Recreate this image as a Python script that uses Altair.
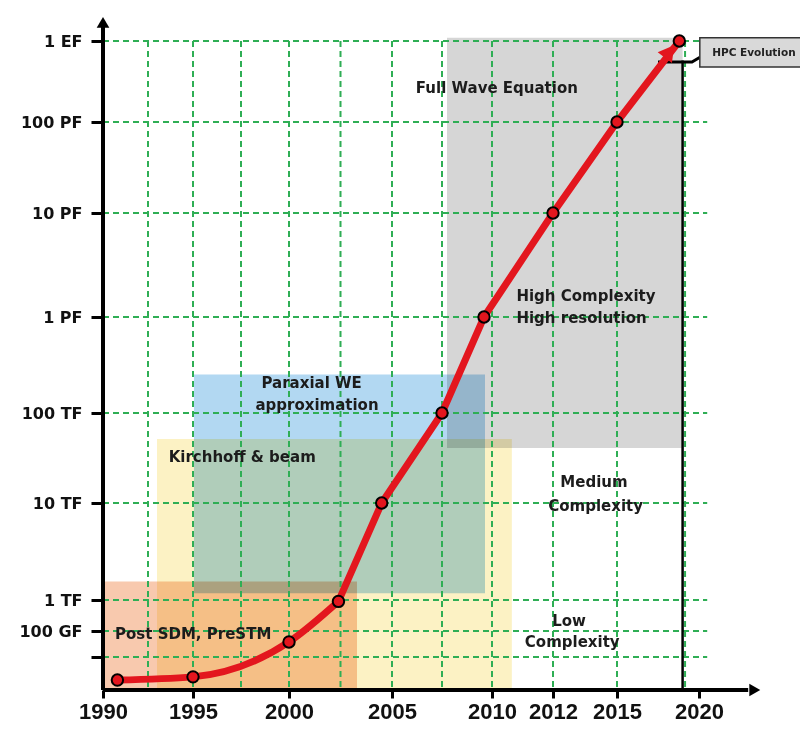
import altair as alt
import pandas as pd

# ---------------- data ----------------
years = [1990.8, 1995.0, 2000.0, 2002.4, 2004.5, 2007.5, 2009.6, 2012.0, 2015.0, 2018.8]
flops = [2.0e9, 2.5e9, 3.8e10, 9.0e11, 1.0e13, 1.0e14, 1.0e15, 1.0e16, 1.0e17, 1.0e18]

x_tick_years = [1990, 1995, 2000, 2005, 2010, 2012, 2015, 2020]
y_tick_values = [1e18, 1e17, 1e16, 1e15, 1e14, 1e13, 1e12, 1e11, 1e10]
y_tick_labels = ["1 EF", "100 PF", "10 PF", "1 PF", "100 TF", "10 TF", "1 TF", "100 GF", ""]

grid_years = [1992.5, 1995, 1997.5, 2000, 2002.5, 2005, 2007.5, 2010, 2012, 2015, 2019.15]
grid_flops = [1e18, 1e17, 1e16, 1e15, 1e14, 1e13, 1e12, 1e11, 1e10]

region_names = ["Full Wave Equation", "Kirchhoff & beam", "Paraxial WE", "Post SDM, PreSTM"]
region_x0 = [2007.75, 1993.0, 1995.05, 1990.0]
region_x1 = [2019.0, 2010.65, 2009.65, 2003.3]
region_y0 = [10 ** 13.61, 1e9, 10 ** 12.07, 1e9]
region_y1 = [10 ** 18.04, 10 ** 13.71, 10 ** 14.40, 10 ** 12.19]
region_colors = ["#d6d6d6", "#fcf2c4", "#b2d8f2", "#f8c9ae"]

center_texts = ["Full Wave Equation", "Paraxial WE", "approximation", "Medium", "Complexity", "Low", "Complexity"]
center_x = [2010.16, 2001.1, 2001.36, 2013.92, 2014.0, 2012.75, 2012.9]
center_y = [10 ** 17.42, 10 ** 14.31, 10 ** 14.08, 10 ** 13.23, 10 ** 12.97, 10 ** 11.32, 10 ** 10.58]

left_texts = ["High Complexity", "High resolution", "Kirchhoff & beam", "Post SDM, PreSTM"]
left_x = [2010.8, 2010.8, 1993.65, 1990.67]
left_y = [10 ** 15.20, 10 ** 14.99, 10 ** 13.51, 10 ** 10.88]

callout_text = ["HPC Evolution"]
callout_x = [2023.35]
callout_y = [10 ** 17.85]
callout_box = {"x0": [2020.05], "x1": [2026.9], "y0": [10 ** 17.68], "y1": [10 ** 18.04]}
callout_line_x = [2017.5, 2019.57, 2020.06]
callout_line_y = [10 ** 17.74, 10 ** 17.74, 10 ** 17.80]

# ---------------- scales (piecewise, following the hand-drawn axis) ----------------
x_domain = [1990, 1995, 2000, 2005, 2010, 2012, 2015, 2020]
x_range = [0, 90, 186, 289, 389, 450, 514, 596]
y_domain = [1e9, 1e10, 1e11, 1e12, 1e13, 1e14, 1e15, 1e16, 1e17, 1e18]
y_range = [678, 645, 619, 588, 491, 401, 305, 201, 110, 29]

xscale = alt.Scale(type="linear", domain=x_domain, range=x_range, nice=False, zero=False)
yscale = alt.Scale(type="log", domain=y_domain, range=y_range, nice=False)

label_expr = ""
for v, lab in zip(y_tick_values, y_tick_labels):
    label_expr += f"datum.value > {v * 0.5} ? '{lab}' : "
label_expr += "''"

xaxis = alt.Axis(values=x_tick_years, format="d", labelFont="Liberation Sans",
                 labelFontWeight="bold", labelFontSize=22, labelColor="#111111",
                 tickColor="black", tickWidth=3, tickSize=8, labelPadding=20,
                 labelBaseline="alphabetic", domain=False, grid=False,
                 labelFlush=False, labelOverlap=False)
yaxis = alt.Axis(values=y_tick_values, labelExpr=label_expr, labelFont="DejaVu Sans",
                 labelFontWeight="bold", labelFontSize=16, labelColor="#111111",
                 tickColor="black", tickWidth=3, tickSize=12, labelPadding=9,
                 domain=False, grid=False, labelOverlap=False, labelBaseline="middle")


def X(field):
    return alt.X(field, type="quantitative", scale=xscale, axis=xaxis, title=None)


def Y(field):
    return alt.Y(field, type="quantitative", scale=yscale, axis=yaxis, title=None)


GREEN = "#2fae55"
RED = "#e3161e"

regions_df = pd.DataFrame({"name": region_names, "x0": region_x0, "x1": region_x1,
                           "y0": region_y0, "y1": region_y1, "color": region_colors})
regions = alt.Chart(regions_df).mark_rect(blend="multiply").encode(
    x=X("x0"), x2="x1", y=Y("y0"), y2="y1", color=alt.Color("color:N", scale=None))

hgrid_df = pd.DataFrame({"v": grid_flops, "a": [1990] * len(grid_flops), "b": [2020.5] * len(grid_flops)})
hgrid = alt.Chart(hgrid_df).mark_rule(color=GREEN, strokeDash=[6, 4], strokeWidth=2).encode(
    x=X("a"), x2="b", y=Y("v"))

vgrid_df = pd.DataFrame({"v": grid_years, "a": [1e18] * len(grid_years), "b": [1e9] * len(grid_years)})
vgrid = alt.Chart(vgrid_df).mark_rule(color=GREEN, strokeDash=[6, 4], strokeWidth=2).encode(
    x=X("v"), y=Y("a"), y2="b")

vline_df = pd.DataFrame({"v": [2019.0], "a": [10 ** 17.76], "b": [1e9]})
vline = alt.Chart(vline_df).mark_rule(color="black", strokeWidth=2.5).encode(
    x=X("v"), y=Y("a"), y2="b")

tfont = dict(font="DejaVu Sans", fontWeight="bold", fontSize=15, color="#1c1c1c", baseline="middle")
ctext = alt.Chart(pd.DataFrame({"t": center_texts, "x": center_x, "y": center_y})).mark_text(
    align="center", **tfont).encode(x=X("x"), y=Y("y"), text="t:N")
ltext = alt.Chart(pd.DataFrame({"t": left_texts, "x": left_x, "y": left_y})).mark_text(
    align="left", **tfont).encode(x=X("x"), y=Y("y"), text="t:N")

series_df = pd.DataFrame({"year": years, "flops": flops})
line_low = alt.Chart(series_df.iloc[:4]).mark_line(
    color=RED, strokeWidth=7, interpolate="monotone").encode(x=X("year"), y=Y("flops"))
line_high = alt.Chart(series_df.iloc[3:]).mark_line(
    color=RED, strokeWidth=7, strokeJoin="round").encode(x=X("year"), y=Y("flops"))
points = alt.Chart(series_df).mark_point(shape="circle", filled=True, fill=RED, stroke="black",
                                          strokeWidth=2, size=130, opacity=1).encode(
    x=X("year"), y=Y("flops"))

arrow_df = pd.DataFrame({"x": [2018.2], "y": [10 ** 17.87]})
arrowhead = alt.Chart(arrow_df).mark_point(shape="triangle-up", angle=37, filled=True,
                                           color=RED, size=320, opacity=1).encode(
    x=X("x"), y=Y("y"))

yaxis_line = alt.Chart(pd.DataFrame({"x": [1990], "a": [1e9], "b": [10 ** 18.2]})).mark_rule(
    color="black", strokeWidth=4).encode(x=X("x"), y=Y("a"), y2="b")
xaxis_line = alt.Chart(pd.DataFrame({"a": [1990], "b": [2023.0], "y": [1e9]})).mark_rule(
    color="black", strokeWidth=4).encode(x=X("a"), x2="b", y=Y("y"))
yaxis_head = alt.Chart(pd.DataFrame({"x": [1990], "y": [10 ** 18.23]})).mark_point(
    shape="triangle-up", filled=True, color="black", size=160, opacity=1).encode(x=X("x"), y=Y("y"))
xaxis_head = alt.Chart(pd.DataFrame({"x": [2023.4], "y": [1e9]})).mark_point(
    shape="triangle-right", filled=True, color="black", size=160, opacity=1).encode(x=X("x"), y=Y("y"))

box = alt.Chart(pd.DataFrame(callout_box)).mark_rect(fill="#d9d9d9", stroke="#333333", strokeWidth=1.5).encode(
    x=X("x0"), x2="x1", y=Y("y0"), y2="y1")
cline = alt.Chart(pd.DataFrame({"x": callout_line_x, "y": callout_line_y, "o": [0, 1, 2]})).mark_line(
    color="black", strokeWidth=3).encode(x=X("x"), y=Y("y"), order="o:Q")
btext = alt.Chart(pd.DataFrame({"t": callout_text, "x": callout_x, "y": callout_y})).mark_text(
    font="DejaVu Sans", fontWeight="bold", fontSize=10.5, color="#222222", align="center",
    baseline="middle").encode(x=X("x"), y=Y("y"), text="t:N")

chart = alt.layer(
    regions, hgrid, vgrid, vline, ctext, ltext, cline, line_low, line_high, points, arrowhead,
    yaxis_line, xaxis_line, yaxis_head, xaxis_head, box, btext
).properties(
    width=697, height=678,
    padding={"left": 95, "top": 4, "right": 0, "bottom": 34},
    autosize="none",
    background="white",
).configure_view(stroke=None)

chart.save("out.html", embed_options={"renderer": "svg", "actions": False})
